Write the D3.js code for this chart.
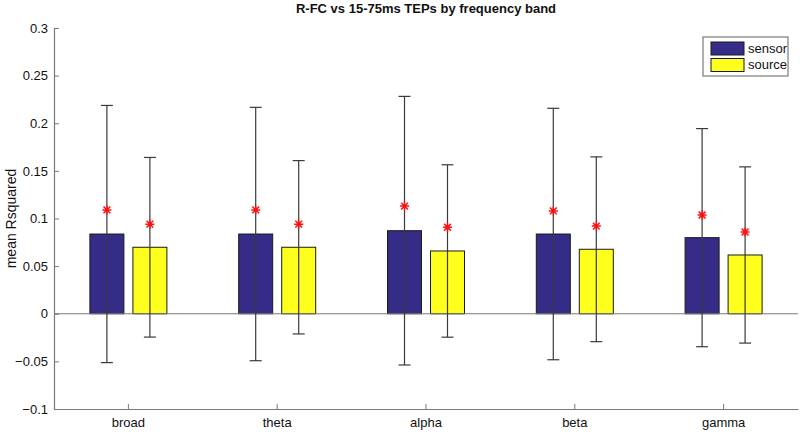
<!DOCTYPE html>
<html><head><meta charset="utf-8">
<script src="https://cdn.jsdelivr.net/npm/d3@7"></script>
<style>body{margin:0;background:#fff}svg{display:block}text{font-family:"Liberation Sans",Arial,sans-serif}</style>
</head><body>
<svg id="c" width="800" height="432"></svg>
<script>
const categories = ["broad","theta","alpha","beta","gamma"];
const seriesNames = ["sensor","source"];
const sensorMean = [0.0837, 0.0837, 0.0872, 0.0837, 0.0799];
const sensorErr  = [0.135, 0.133, 0.141, 0.132, 0.1145];
const sourceMean = [0.0698, 0.0698, 0.0659, 0.0677, 0.0617];
const sourceErr  = [0.0943, 0.091, 0.0905, 0.097, 0.0925];
const sensorStar = [0.109, 0.109, 0.113, 0.108, 0.1037];
const sourceStar = [0.094, 0.094, 0.0908, 0.092, 0.0858];
const yTicks = [-0.1,-0.05,0,0.05,0.1,0.15,0.2,0.25,0.3];
const colors = {sensor:"#352c88", source:"#ffff1e"};

const svg = d3.select("#c");
const L=54, R=798, T=28, B=409;
const x0 = d3.scaleBand().domain(categories).range([L,R]).paddingInner(0).paddingOuter(0);
const bw = x0.bandwidth();
const x1 = d3.scaleBand().domain(seriesNames).range([bw/2-43, bw/2+43]).paddingInner(9/43).paddingOuter(4.5/43);
const y = d3.scaleLinear().domain([-0.1,0.3]).range([B,T]);
const axisCol = "#7a7a7a";

const data = [];
categories.forEach((c,i)=>{
  data.push({c, s:"sensor", m:sensorMean[i], e:sensorErr[i], st:sensorStar[i]});
  data.push({c, s:"source", m:sourceMean[i], e:sourceErr[i], st:sourceStar[i]});
});

// bars
svg.append("g").selectAll("rect").data(data).join("rect")
  .attr("x", d=>x0(d.c)+x1(d.s)).attr("width", x1.bandwidth())
  .attr("y", d=>y(Math.max(0,d.m))).attr("height", d=>Math.abs(y(d.m)-y(0)))
  .attr("fill", d=>colors[d.s]).attr("stroke","#1a1a1a").attr("stroke-width",1);

// zero baseline
svg.append("line").attr("x1",L).attr("x2",R).attr("y1",y(0)).attr("y2",y(0))
  .attr("stroke",axisCol).attr("stroke-width",1.2);

// error bars
const eg = svg.append("g").attr("stroke","#3a3a3a").attr("stroke-width",1.2).attr("fill","none");
data.forEach(d=>{
  const cx = x0(d.c)+x1(d.s)+x1.bandwidth()/2;
  eg.append("line").attr("x1",cx).attr("x2",cx).attr("y1",y(d.m+d.e)).attr("y2",y(d.m-d.e));
  eg.append("line").attr("x1",cx-6).attr("x2",cx+6).attr("y1",y(d.m+d.e)).attr("y2",y(d.m+d.e));
  eg.append("line").attr("x1",cx-6).attr("x2",cx+6).attr("y1",y(d.m-d.e)).attr("y2",y(d.m-d.e));
});

// stars
const sg = svg.append("g").attr("stroke","#ff1010").attr("stroke-width",1.5).attr("fill","none");
data.forEach(d=>{
  const cx = x0(d.c)+x1(d.s)+x1.bandwidth()/2, cy = y(d.st), r=4.5, q=r*0.75;
  sg.append("path").attr("d",`M${cx-r},${cy}H${cx+r}M${cx},${cy-r}V${cy+r}M${cx-q},${cy-q}L${cx+q},${cy+q}M${cx-q},${cy+q}L${cx+q},${cy-q}`);
});

// y axis
const ya = svg.append("g").attr("transform",`translate(${L},0)`)
  .call(d3.axisLeft(y).tickValues(yTicks).tickFormat(d=>d3.format("")(+d.toFixed(2))).tickSizeInner(-5).tickSizeOuter(0).tickPadding(6));
ya.select(".domain").attr("stroke",axisCol).attr("stroke-width",1.2);
ya.selectAll(".tick line").attr("stroke",axisCol);
ya.selectAll("text").attr("font-size",13).attr("fill","#111").attr("font-family","Liberation Sans, Arial, sans-serif");

// x axis
const xa = svg.append("g").attr("transform",`translate(0,${B})`)
  .call(d3.axisBottom(x0).tickSizeInner(-5).tickSizeOuter(0).tickPadding(9));
xa.select(".domain").attr("stroke",axisCol).attr("stroke-width",1.2);
xa.selectAll(".tick line").attr("stroke",axisCol);
xa.selectAll("text").attr("font-size",13).attr("fill","#111").attr("font-family","Liberation Sans, Arial, sans-serif");

// title
svg.append("text").attr("x",(L+R)/2).attr("y",13).attr("text-anchor","middle")
  .attr("font-size",13).attr("font-weight","bold").attr("fill","#111")
  .text("R-FC vs 15-75ms TEPs by frequency band");

// y label
svg.append("text").attr("transform",`translate(16,${(T+B)/2}) rotate(-90)`).attr("text-anchor","middle")
  .attr("font-size",14).attr("fill","#111").text("mean Rsquared");

// legend
const lg = svg.append("g").attr("transform","translate(703,37)");
lg.append("rect").attr("width",85).attr("height",39).attr("fill","#fff").attr("stroke","#7a7a7a").attr("stroke-width",1.2);
seriesNames.forEach((s,i)=>{
  lg.append("rect").attr("x",8).attr("y",5+i*16.5).attr("width",33).attr("height",13)
    .attr("fill",colors[s]).attr("stroke","#1a1a1a");
  lg.append("text").attr("x",45).attr("y",15.5+i*16.5).attr("font-size",13).attr("fill","#111").text(s);
});
</script>
</body></html>
